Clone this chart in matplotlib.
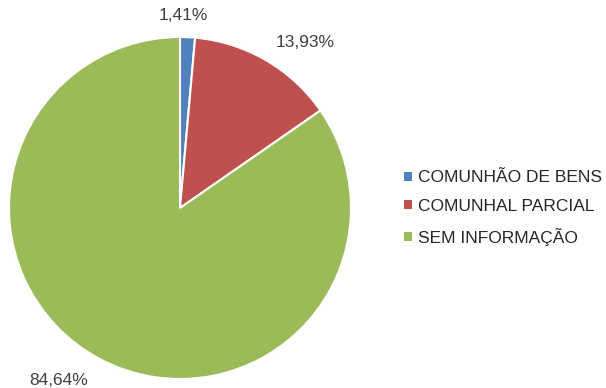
import matplotlib
matplotlib.use("Agg")
import matplotlib.pyplot as plt
from matplotlib.patches import Patch

plt.rcParams['font.family'] = ['Liberation Sans', 'DejaVu Sans']

categories = ["COMUNHÃO DE BENS", "COMUNHAL PARCIAL", "SEM INFORMAÇÃO"]
shares = [1.41, 13.93, 84.64]
colors = ["#4F81BD", "#C0504D", "#9BBB59"]
# label anchors (pie-radius units, relative to centre)
label_pos = [(0.018, 1.123), (0.731, 0.965), (-0.708, -1.006)]

fig = plt.figure(figsize=(6.06, 3.88), dpi=100)
W, H = 606, 388
cx, cy, r = 180, 208, 171
ax = fig.add_axes([(cx - r) / W, (H - cy - r) / H, 2 * r / W, 2 * r / H])
wedges, _ = ax.pie(shares, colors=colors, startangle=90, counterclock=False,
                   radius=1, wedgeprops=dict(edgecolor="white", linewidth=1.5))
ax.set_xlim(-1, 1)
ax.set_ylim(-1, 1)
ax.set_aspect("equal")
ax.axis("off")

for v, (x, y) in zip(shares, label_pos):
    ax.text(x, y, f"{v:.2f}%".replace(".", ","), ha="center", va="center",
            fontsize=12.5, color="#404040")

handles = [Patch(facecolor=c, edgecolor="none") for c in colors]
fig.legend(handles, categories, loc="center left",
           bbox_to_anchor=(399 / W, 1 - 208 / H), frameon=False,
           fontsize=12.5, handlelength=0.42, handleheight=0.42,
           handletextpad=0.35, labelspacing=0.78, labelcolor="#262626",
           borderaxespad=0, borderpad=0.3)

fig.savefig("out.png", dpi=100, facecolor="white")
